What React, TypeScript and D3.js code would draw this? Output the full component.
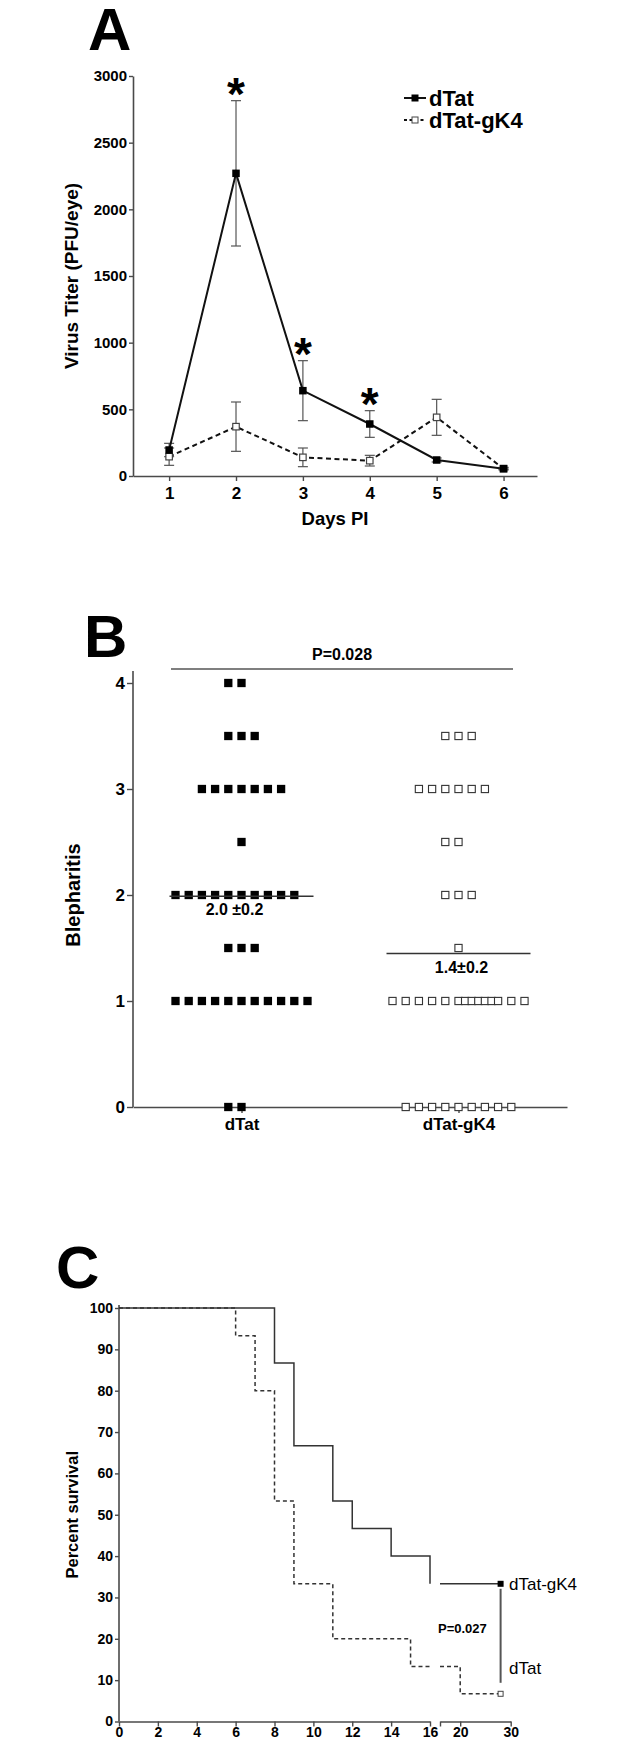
import * as d3 from "d3";
import React, { useEffect, useRef } from "react";

// Panel A: virus titer by day
const days = [1, 2, 3, 4, 5, 6];
const dTatTiter = [195, 2270, 640, 390, 120, 55];
const dTatSem = [50, 545, 225, 100, 15, 10];
const gk4Titer = [145, 370, 140, 115, 440, 55];
const gk4Sem = [65, 185, 70, 40, 135, 5];
const starDays = [2, 3, 4];
const titerTicks = [0, 500, 1000, 1500, 2000, 2500, 3000];
const seriesNames = ["dTat", "dTat-gK4"];

// Panel B: blepharitis scores (count of eyes per score)
const groups = ["dTat", "dTat-gK4"];
const scoreLevels = [4, 3.5, 3, 2.5, 2, 1.5, 1, 0];
const dTatCounts = [2, 3, 7, 1, 10, 3, 11, 2];
const gk4Counts = [0, 3, 6, 2, 3, 1, 14, 9];
const meanLabels = ["2.0 \u00b10.2", "1.4\u00b10.2"];
const scoreTicks = [0, 1, 2, 3, 4];
const pValueB = "P=0.028";

// Panel C: survival
const kmDTatDays = [0, 6, 7, 8, 9, 11, 15, 20, 28];
const kmDTatSurv = [100, 93.3, 80, 53.3, 33.3, 20, 13.3, 6.7, 6.7];
const kmGk4Days = [0, 8, 9, 11, 12, 14, 16, 28];
const kmGk4Surv = [100, 86.7, 66.7, 53.3, 46.7, 40, 33.3, 33.3];
const survTicks = [0, 10, 20, 30, 40, 50, 60, 70, 80, 90, 100];
const dayTicksLeft = [0, 2, 4, 6, 8, 10, 12, 14, 16];
const dayTicksRight = [16, 20, 30];
const pValueC = "P=0.027";

const FONT = "'Liberation Sans', Arial, Helvetica, sans-serif";
const AXIS = "#4a4a4a";

// prism-like horizontal spread of points in one row (slot units)
function rowOffsets(n, cap = 11) {
    if (n <= cap) return d3.range(n).map((i) => i - Math.floor(n / 2));
    const half = (cap - 1) / 2;
    const extra = n - cap;
    const left = d3.range(-half, 0);
    const mid = d3.range(0, 2 * extra + 1).map((i) => i / 2);
    const right = d3.range(extra + 1, half + 1);
    return [...left, ...mid, ...right];
}

function styleAxis(g, size) {
    g.select(".domain").attr("stroke", AXIS).attr("stroke-width", 1.6);
    g.selectAll(".tick line").attr("stroke", AXIS).attr("stroke-width", 1.4);
    g.selectAll(".tick text")
        .attr("fill", "#000")
        .attr("font-family", FONT)
        .attr("font-weight", "bold")
        .attr("font-size", size);
    g.attr("font-family", null).attr("font-size", null);
}

function splitAt(daysArr, surv, brk) {
    const left = [];
    const right = [];
    let last = surv[0];
    daysArr.forEach((d, i) => {
        if (d <= brk) {
            left.push([d, surv[i]]);
            last = surv[i];
        }
    });
    if (left[left.length - 1][0] < brk) left.push([brk, last]);
    right.push([brk, last]);
    daysArr.forEach((d, i) => {
        if (d > brk) right.push([d, surv[i]]);
    });
    return [left, right];
}

export default function App() {
    const ref = useRef(null);

    useEffect(() => {
        const svg = d3.select(ref.current);
        svg.selectAll("*").remove();
        svg.attr("font-family", FONT);

        const letter = (txt, x, y) =>
            svg.append("text").attr("x", x).attr("y", y).attr("font-size", 60)
                .attr("font-weight", "bold").text(txt);

        // ================= A =================
        letter("A", 88, 50);
        const xA = d3.scaleLinear().domain([0.46, 6.5]).range([133, 537]);
        const yA = d3.scaleLinear().domain([0, 3000]).range([476, 76]);

        svg.append("g").attr("transform", "translate(0,476)")
            .call(d3.axisBottom(xA).tickValues(days).tickSize(5).tickSizeOuter(0).tickPadding(6).tickFormat(d3.format("d")))
            .call((g) => styleAxis(g, 17));
        svg.append("g").attr("transform", "translate(133,0)")
            .call(d3.axisLeft(yA).tickValues(titerTicks).tickSize(4).tickSizeOuter(0).tickPadding(2).tickFormat(d3.format("d")))
            .call((g) => styleAxis(g, 15));

        svg.append("text")
            .attr("transform", `translate(78,${(yA(0) + yA(3000)) / 2}) rotate(-90)`)
            .attr("text-anchor", "middle").attr("font-weight", "bold").attr("font-size", 19)
            .text("Virus Titer (PFU/eye)");
        svg.append("text").attr("x", 335).attr("y", 525).attr("text-anchor", "middle")
            .attr("font-weight", "bold").attr("font-size", 18.5).text("Days PI");

        const seriesA = [
            { vals: dTatTiter, sem: dTatSem },
            { vals: gk4Titer, sem: gk4Sem },
        ];
        const bars = svg.append("g").attr("stroke", "#555").attr("stroke-width", 1.2);
        seriesA.forEach((s) => {
            days.forEach((d, i) => {
                const x = xA(d);
                const y1 = yA(s.vals[i] + s.sem[i]);
                const y2 = yA(Math.max(0, s.vals[i] - s.sem[i]));
                bars.append("line").attr("x1", x).attr("x2", x).attr("y1", y1).attr("y2", y2);
                bars.append("line").attr("x1", x - 5).attr("x2", x + 5).attr("y1", y1).attr("y2", y1);
                bars.append("line").attr("x1", x - 5).attr("x2", x + 5).attr("y1", y2).attr("y2", y2);
            });
        });
        const lineA = d3.line().x((d) => xA(d[0])).y((d) => yA(d[1]));
        svg.append("path").attr("d", lineA(days.map((d, i) => [d, gk4Titer[i]])))
            .attr("fill", "none").attr("stroke", "#111").attr("stroke-width", 2).attr("stroke-dasharray", "5,3.5");
        svg.append("path").attr("d", lineA(days.map((d, i) => [d, dTatTiter[i]])))
            .attr("fill", "none").attr("stroke", "#111").attr("stroke-width", 2);
        svg.append("g").selectAll("rect").data(days).join("rect")
            .attr("x", (d) => xA(d) - 3.25).attr("y", (d, i) => yA(gk4Titer[i]) - 3.25)
            .attr("width", 6.5).attr("height", 6.5).attr("fill", "#fff").attr("stroke", "#444").attr("stroke-width", 1.2);
        svg.append("g").selectAll("rect").data(days).join("rect")
            .attr("x", (d) => xA(d) - 3.75).attr("y", (d, i) => yA(dTatTiter[i]) - 3.75)
            .attr("width", 7.5).attr("height", 7.5).attr("fill", "#000");

        svg.append("g").selectAll("text").data(starDays).join("text")
            .attr("x", (d) => xA(d)).attr("text-anchor", "middle")
            .attr("y", (d) => {
                const i = days.indexOf(d);
                return yA(dTatTiter[i] + dTatSem[i]) - 8 + 17.8;
            })
            .attr("font-size", 46).attr("font-weight", "bold").text("*");

        // legend
        const leg = svg.append("g");
        seriesNames.forEach((name, i) => {
            const y = 98 + i * 22;
            leg.append("line").attr("x1", 404).attr("x2", 426).attr("y1", y).attr("y2", y)
                .attr("stroke", "#111").attr("stroke-width", 2)
                .attr("stroke-dasharray", i === 0 ? null : "3,2.5");
            leg.append("rect").attr("x", i === 0 ? 411.5 : 412).attr("y", i === 0 ? y - 3.5 : y - 3)
                .attr("width", i === 0 ? 7 : 6).attr("height", i === 0 ? 7 : 6)
                .attr("fill", i === 0 ? "#000" : "#fff").attr("stroke", i === 0 ? null : "#444");
            leg.append("text").attr("x", 429).attr("y", y + 7.5).attr("font-size", 22)
                .attr("font-weight", "bold").text(name);
        });

        // ================= B =================
        letter("B", 84, 657);
        const xB = d3.scalePoint().domain(groups).range([133, 567]).padding(0.5);
        const yB = d3.scaleLinear().domain([0, 4]).range([1107, 683]);

        svg.append("g").attr("transform", "translate(0,1107)")
            .call(d3.axisBottom(xB).tickSize(6).tickSizeOuter(0).tickPadding(5))
            .call((g) => styleAxis(g, 17));
        svg.append("g").attr("transform", "translate(133,0)")
            .call(d3.axisLeft(yB).tickValues(scoreTicks).tickSize(6).tickSizeOuter(0).tickPadding(2).tickFormat(d3.format("d")))
            .call((g) => {
                styleAxis(g, 17);
                g.select(".domain").attr("d", `M0,671V1107`);
            });
        svg.append("text")
            .attr("transform", `translate(80,${(yB(0) + yB(4)) / 2}) rotate(-90)`)
            .attr("text-anchor", "middle").attr("font-weight", "bold").attr("font-size", 20)
            .text("Blepharitis");

        svg.append("line").attr("x1", 171).attr("x2", 513).attr("y1", 669).attr("y2", 669)
            .attr("stroke", "#555").attr("stroke-width", 1.5);
        svg.append("text").attr("x", 342).attr("y", 660).attr("text-anchor", "middle")
            .attr("font-weight", "bold").attr("font-size", 16).text(pValueB);

        const step = 13.2;
        [dTatCounts, gk4Counts].forEach((counts, gi) => {
            const cx = xB(groups[gi]);
            const pts = [];
            scoreLevels.forEach((s, li) => {
                rowOffsets(counts[li]).forEach((o) => pts.push([cx + o * step, yB(s)]));
            });
            const filled = gi === 0;
            const sz = filled ? 8.3 : 7.2;
            svg.append("g").selectAll("rect").data(pts).join("rect")
                .attr("x", (d) => d[0] - sz / 2).attr("y", (d) => d[1] - sz / 2)
                .attr("width", sz).attr("height", sz)
                .attr("fill", filled ? "#000" : "#fff")
                .attr("stroke", filled ? null : "#333").attr("stroke-width", 1.1);

            const total = d3.sum(counts);
            const mean = d3.sum(scoreLevels.map((s, li) => s * counts[li])) / total;
            const my = yB(mean);
            svg.append("line").attr("x1", cx - 72).attr("x2", cx + 72).attr("y1", my).attr("y2", my)
                .attr("stroke", "#333").attr("stroke-width", 1.5);
            svg.append("text").attr("x", cx + (gi === 0 ? -7 : 3)).attr("y", my + 19)
                .attr("text-anchor", "middle").attr("font-weight", "bold").attr("font-size", 16)
                .text(meanLabels[gi]);
        });

        // ================= C =================
        letter("C", 56, 1288);
        const yC = d3.scaleLinear().domain([0, 100]).range([1721.5, 1308]);
        const xC1 = d3.scaleLinear().domain([0, 16]).range([119, 430]);
        const xC2 = d3.scaleLinear().domain([16, 30]).range([440, 510.7]);

        svg.append("g").attr("transform", "translate(119,0)")
            .call(d3.axisLeft(yC).tickValues(survTicks).tickSize(4).tickSizeOuter(0).tickPadding(2))
            .call((g) => {
                styleAxis(g, 14);
                g.select(".domain").attr("d", "M0,1305V1721.5");
            });
        svg.append("g").attr("transform", "translate(0,1721.5)")
            .call(d3.axisBottom(xC1).tickValues(dayTicksLeft).tickSize(5).tickSizeOuter(0).tickPadding(1))
            .call((g) => styleAxis(g, 14));
        svg.append("g").attr("transform", "translate(0,1721.5)")
            .call(d3.axisBottom(xC2).tickValues(dayTicksRight).tickSize(5).tickSizeOuter(0).tickPadding(1)
                .tickFormat((d) => (d === 16 ? "" : d)))
            .call((g) => styleAxis(g, 14));

        svg.append("text")
            .attr("transform", `translate(78,${(yC(0) + yC(100)) / 2}) rotate(-90)`)
            .attr("text-anchor", "middle").attr("font-weight", "bold").attr("font-size", 16.5)
            .text("Percent survival");

        const km = [
            { d: kmDTatDays, s: kmDTatSurv, dash: "4,3" },
            { d: kmGk4Days, s: kmGk4Surv, dash: null },
        ];
        km.forEach((k) => {
            const [left, right] = splitAt(k.d, k.s, 16);
            const l1 = d3.line().curve(d3.curveStepAfter).x((p) => xC1(p[0])).y((p) => yC(p[1]));
            const l2 = d3.line().curve(d3.curveStepAfter).x((p) => xC2(p[0])).y((p) => yC(p[1]));
            [l1(left), l2(right)].forEach((dPath) =>
                svg.append("path").attr("d", dPath).attr("fill", "none").attr("stroke", "#333")
                    .attr("stroke-width", 1.5).attr("stroke-dasharray", k.dash));
        });
        const endDay = 28;
        const gEnd = kmGk4Surv[kmGk4Surv.length - 1];
        const dEnd = kmDTatSurv[kmDTatSurv.length - 1];
        svg.append("line").attr("x1", xC2(endDay)).attr("x2", xC2(endDay))
            .attr("y1", yC(gEnd) + 5).attr("y2", yC(dEnd) - 11)
            .attr("stroke", "#555").attr("stroke-width", 2);
        svg.append("rect").attr("x", xC2(endDay) - 3).attr("y", yC(gEnd) - 3).attr("width", 6).attr("height", 6)
            .attr("fill", "#000");
        svg.append("rect").attr("x", xC2(endDay) - 2.5).attr("y", yC(dEnd) - 2.5).attr("width", 5).attr("height", 5)
            .attr("fill", "#fff").attr("stroke", "#444").attr("stroke-width", 1);
        svg.append("text").attr("x", 509).attr("y", yC(gEnd) + 6).attr("font-size", 17).text("dTat-gK4");
        svg.append("text").attr("x", 509).attr("y", 1674).attr("font-size", 17).text("dTat");
        svg.append("text").attr("x", 438).attr("y", 1633).attr("font-size", 13).attr("font-weight", "bold")
            .text(pValueC);
    }, []);

    return (
        <svg
            ref={ref}
            width={640}
            height={1740}
            style={{ position: "absolute", left: 0, top: 0, background: "#fff" }}
        />
    );
}
